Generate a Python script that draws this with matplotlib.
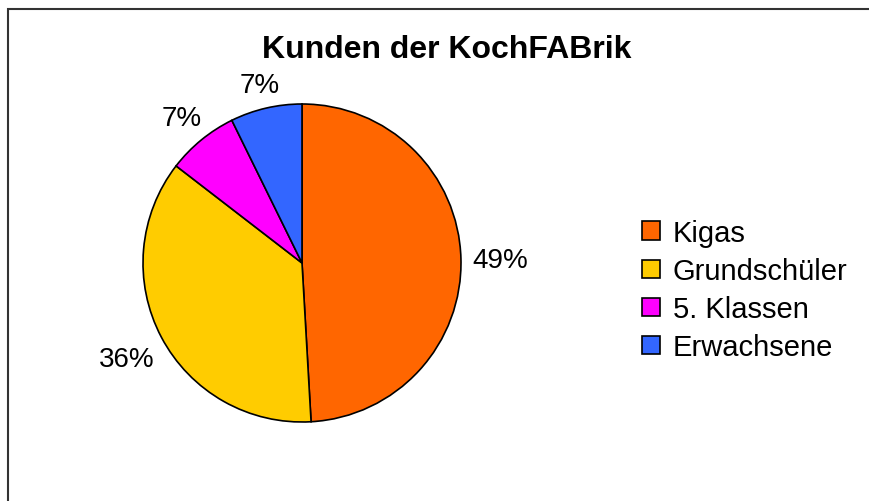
import numpy as np
import matplotlib.pyplot as plt
from matplotlib.patches import Rectangle

# Kunden der KochFABrik
kategorien = ['Kigas', 'Grundschüler', '5. Klassen', 'Erwachsene']
anzahl = [27, 20, 4, 4]
farben = ['#FF6600', '#FFCC00', '#FF00FF', '#3366FF']

plt.rcParams['font.family'] = ['Liberation Sans', 'DejaVu Sans']

fig = plt.figure(figsize=(8.7, 5.02), dpi=100)

# Rahmen um das Diagramm
fig.add_artist(Rectangle((8 / 870, -0.05), 1.0, 1 - 10 / 502 + 0.05,
                         transform=fig.transFigure, fill=False,
                         edgecolor='#333333', linewidth=1.5))

ax = fig.add_axes([143 / 870, 79 / 502, 318 / 870, 318 / 502])
wedges, texts, autotexts = ax.pie(
    anzahl, colors=farben, startangle=90, counterclock=False,
    autopct='%1.0f%%', pctdistance=1.22,
    wedgeprops=dict(edgecolor='black', linewidth=1.2),
    textprops=dict(fontsize=20))
ax.set_xlim(-1, 1)
ax.set_ylim(-1, 1)
ax.set_aspect('equal')

# Beschriftungen etwas naeher an kleine Stuecke
abstand = [1.245, 1.25, 1.2, 1.17]
for w, t, d in zip(wedges, autotexts, abstand):
    mitte = np.deg2rad((w.theta1 + w.theta2) / 2)
    t.set_position((d * np.cos(mitte), d * np.sin(mitte)))
    t.set_va('center_baseline')

fig.text(447 / 870, 1 - 50 / 502, 'Kunden der KochFABrik', ha='center', va='center',
         fontsize=23, fontweight='bold')

leg = fig.legend(wedges, kategorien, loc='center left',
                 bbox_to_anchor=(0.708, 0.42), frameon=False, fontsize=21,
                 handlelength=0.6, handleheight=0.6, handletextpad=0.45,
                 labelspacing=0.35)
for h in leg.legend_handles:
    h.set_linewidth(1.2)

fig.savefig('out.png', dpi=100)
